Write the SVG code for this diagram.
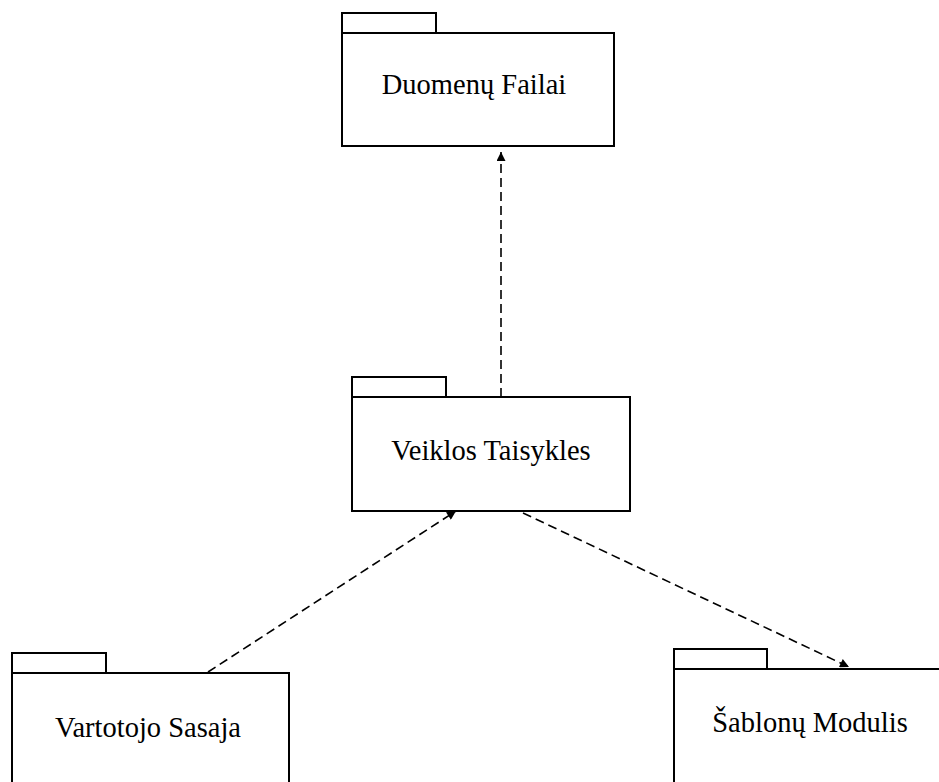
<svg xmlns="http://www.w3.org/2000/svg" width="939" height="782" viewBox="0 0 939 782">
  <style>
    .box { fill: #ffffff; stroke: #000000; stroke-width: 2; }
    .lbl { font-family: "Liberation Serif", "DejaVu Serif", serif; font-size: 28.5px; fill: #000000; text-anchor: middle; }
    .dep { fill: none; stroke: #000000; stroke-width: 1.6; stroke-dasharray: 9 5; }
  </style>
  <defs>
    <marker id="arrow" viewBox="0 0 10 10" refX="10" refY="5" markerWidth="10" markerHeight="9" markerUnits="userSpaceOnUse" orient="auto">
      <path d="M0,0 L10,5 L0,10 Z" fill="#000000"/>
    </marker>
  </defs>
  <rect width="939" height="782" fill="#ffffff"/>

  <!-- packages: tab + body, label centred in body -->
  <g id="duomenu-failai">
    <rect class="box" x="342" y="13" width="94" height="20"/>
    <rect class="box" x="342" y="33" width="272" height="113"/>
    <text class="lbl" x="474" y="94">Duomenų Failai</text>
  </g>

  <g id="veiklos-taisykles">
    <rect class="box" x="352" y="377" width="94" height="20"/>
    <rect class="box" x="352" y="397" width="278" height="114"/>
    <text class="lbl" x="491" y="460">Veiklos Taisykles</text>
  </g>

  <g id="vartotojo-sasaja">
    <rect class="box" x="12" y="653" width="94" height="20"/>
    <rect class="box" x="12" y="673" width="277" height="130"/>
    <text class="lbl" x="148" y="737">Vartotojo Sasaja</text>
  </g>

  <g id="sablonu-modulis">
    <rect class="box" x="674" y="649" width="93" height="20"/>
    <rect class="box" x="674" y="669" width="280" height="130"/>
    <text class="lbl" x="810" y="732">Šablonų Modulis</text>
  </g>

  <!-- dependencies -->
  <g id="connectors">
    <line class="dep" x1="501" y1="397" x2="501" y2="152" marker-end="url(#arrow)"/>
    <line class="dep" x1="208" y1="672" x2="456" y2="511" marker-end="url(#arrow)"/>
    <line class="dep" x1="523" y1="513" x2="849" y2="667" marker-end="url(#arrow)"/>
  </g>
</svg>
